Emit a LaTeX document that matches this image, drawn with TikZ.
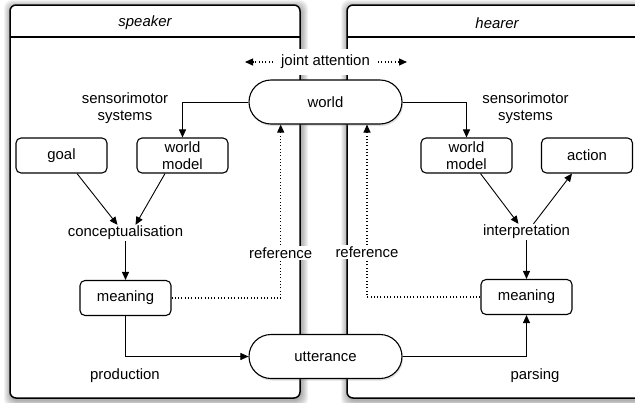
\documentclass[tikz,border=0pt]{standalone}
\usepackage{fontspec}
\setmainfont{Liberation Sans}
\usetikzlibrary{arrows.meta,calc,shadows}
\begin{document}
\begin{tikzpicture}[x=1pt,y=-1pt,
  every node/.style={font=\fontsize{14.9}{17}\selectfont, align=center, inner sep=1pt},
  box/.style={draw, line width=1.1pt, rounded corners=5pt, minimum width=91pt, minimum height=35pt, inner sep=0pt, fill=white},
  pill/.style={draw, line width=1.1pt, rounded corners=22pt, minimum width=153pt, minimum height=44pt, fill=white, drop shadow={shadow xshift=1pt, shadow yshift=-2pt, opacity=0.25}},
  conn/.style={line width=0.9pt, -{Triangle[length=8pt,width=7pt]}},
  dots/.style={line width=1.1pt, dash pattern=on 1pt off 2.3pt},
  panel/.style={draw, line width=1.5pt, rounded corners=6pt, fill=white},
  lbl/.style={fill=white, inner sep=2pt}
]
\useasboundingbox (0,0) rectangle (635,402);
\clip (0,0) rectangle (635,402);
% soft panel shadows
\foreach \s in {1,...,7} {
  \fill[black, opacity=0.05, rounded corners=8pt] ({11-\s},{7-\s}) rectangle ({301+\s},{400+\s});
  \fill[black, opacity=0.05, rounded corners=8pt] ({348-\s},{7-\s}) rectangle ({641+\s},{400+\s});
}
% panels
\draw[panel] (10,5) rectangle (300,398);
\draw[line width=1.5pt] (10,37) -- (300,37);
\draw[panel] (347,5) rectangle (645,398);
\draw[line width=1.5pt] (347,37) -- (645,37);
\node (spk) at (145,23) {\itshape speaker};
\node (hrr) at (497,23) {\itshape hearer};

% shared nodes
\node[pill] (world) at (325.5,102) {world};
\node[pill] (utt) at (325.5,356.5) {utterance};
\node[fill=white, inner xsep=8pt, inner ysep=6pt] (ja) at (325.5,62) {joint attention};
\coordinate (jal) at (245,62);
\coordinate (jar) at (407,62);
\draw[dots, -{Triangle[length=8pt,width=7pt]}] (ja.west) -- (jal);
\draw[dots, -{Triangle[length=8pt,width=7pt]}] (ja.east) -- (jar);

% speaker
\node (sml) at (125,108) {sensorimotor\\systems};
\node[box] (goal) at (61.5,155.5) {goal};
\node[box] (wml) at (182.5,155.5) {world\\model};
\node (conc) at (125.5,233) {conceptualisation};
\node[box] (meanl) at (125.5,298) {meaning};
\node (prod) at (125,376) {production};

% hearer
\node (smr) at (525.5,108) {sensorimotor\\systems};
\node[box] (wmr) at (466.5,155.5) {world\\model};
\node[box] (act) at (587,155.5) {action};
\node (intp) at (526.5,232) {interpretation};
\node[box] (meanr) at (526.5,297) {meaning};
\node (pars) at (535,376) {parsing};

% connectors
\draw[conn] (world.west) -| (wml.north);
\draw[conn] (world.east) -| (wmr.north);
\draw[conn] ($(goal.south)+(15.5,0)$) -- ($(conc.north)+(-8,0)$);
\draw[conn] ($(wml.south)+(-17.5,0)$) -- ($(conc.north)+(10,0)$);
\draw[conn] (conc.south) -- (meanl.north);
\draw[conn] (meanl.south) |- (utt.west);
\draw[dots, -{Triangle[length=8pt,width=7pt]}] (meanl.east) -| ($(world.south)+(-44.8,0)$);

\draw[conn] ($(wmr.south)+(14,0)$) -- ($(intp.north)+(-8,0)$);
\draw[conn] ($(intp.north)+(7,0)$) -- ($(act.south)+(-15,0)$);
\draw[conn] (intp.south) -- (meanr.north);
\draw[conn] (utt.east) -| (meanr.south);
\draw[dots, -{Triangle[length=8pt,width=7pt]}] (meanr.west) -| ($(world.south)+(41.5,0)$);

\node[lbl] (refl) at (280.7,253) {reference};
\node[lbl] (refr) at (367,252) {reference};
\end{tikzpicture}
\end{document}
